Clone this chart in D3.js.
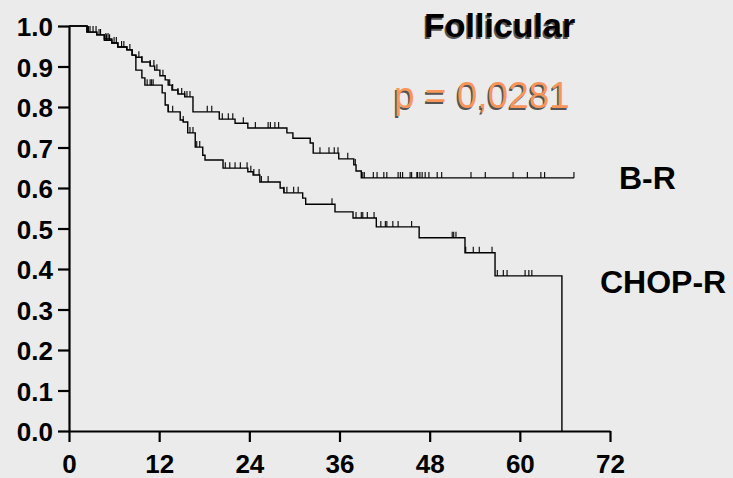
<!DOCTYPE html>
<meta charset="utf-8">
<script src="https://d3js.org/d3.v7.min.js"></script>
<style>
  body { margin: 0; background: #ebebeb; }
  text { font-family: Arial, "Liberation Sans", Helvetica, sans-serif; }
</style>
<body>
<div id="chart"></div>
<script>

// Kaplan-Meier steps: [month, survival]
var brSteps = [[0,1.0],[2.4,0.985],[3.7,0.978],[4.7,0.968],[5.7,0.958],[6.5,0.948],[7.7,0.941],
  [8.4,0.928],[8.9,0.923],[9.7,0.911],[10.8,0.901],[11.4,0.891],[12.1,0.877],[12.8,0.867],
  [13.2,0.854],[13.7,0.842],[14.5,0.832],[15.4,0.825],[16.5,0.788],[20.0,0.770],[22.1,0.760],
  [23.8,0.748],[29.0,0.736],[29.8,0.723],[32.1,0.711],[32.5,0.686],[35.9,0.672],[37.9,0.657],
  [38.2,0.642],[38.9,0.625]];
var brEnd = 67.2;

var chopSteps = [[0,1.0],[2.4,0.985],[3.7,0.978],[4.7,0.965],[5.7,0.958],[6.5,0.948],[7.7,0.941],
  [8.4,0.928],[8.9,0.891],[9.7,0.872],[10.1,0.854],[12.4,0.835],[12.8,0.805],[13.2,0.788],
  [14.8,0.768],[15.2,0.763],[15.8,0.736],[16.8,0.701],[17.8,0.681],[18.1,0.669],[20.5,0.649],
  [23.8,0.640],[24.5,0.632],[25.4,0.615],[28.1,0.600],[28.6,0.588],[31.1,0.575],[31.5,0.560],
  [35.4,0.541],[37.8,0.526],[40.9,0.504],[46.6,0.477],[52.7,0.440],[56.7,0.383]];
var chopEnd = 65.6;

// censored observations (months)
var brCensor = [2.4,2.8,3.6,4.0,4.9,5.2,6.3,7.3,8.1,9.3,9.7,10.8,11.3,11.7,12.5,13.4,13.8,14.5,
  15.0,15.4,15.7,16.1,18.4,19.0,20.4,21.2,21.8,23.2,24.8,26.5,26.8,27.4,27.9,33.4,34.6,35.3,35.8,
  37.1,38.1,39.1,39.3,40.5,41.0,41.9,42.3,43.8,44.1,44.4,45.4,45.6,46.3,46.4,46.7,47.0,47.4,47.9,
  49.0,49.6,53.5,55.4,59.1,61.0,62.8,63.3,67.2];
var chopCensor = [2.6,3.2,4.2,5.0,5.4,6.0,7.0,10.4,10.8,11.0,11.2,13.2,13.8,15.2,16.1,16.5,17.0,17.4,
  20.8,21.4,22.1,22.8,23.7,24.2,24.6,25.3,25.6,26.5,28.6,29.0,29.9,30.5,35.0,38.2,38.9,39.1,39.7,
  40.6,41.5,42.1,42.3,43.1,43.8,45.6,51.0,51.2,51.5,52.8,53.8,54.6,56.3,57.0,57.8,58.3,60.7,61.2,61.6];

var xTicks = [0,12,24,36,48,60,72];
var yTicks = [0,0.1,0.2,0.3,0.4,0.5,0.6,0.7,0.8,0.9,1.0];

var width = 733, height = 478;

var svg = d3.select("#chart").append("svg")
    .attr("width", width)
    .attr("height", height);

svg.append("rect").attr("width", width).attr("height", height).attr("fill", "#ebebeb");

var x = d3.scaleLinear().domain([0, 72]).range([69, 610]);
var y = d3.scaleLinear().domain([0, 1]).range([431, 26]);

// axes
var xAxis = svg.append("g")
    .attr("transform", "translate(0,431)")
    .call(d3.axisBottom(x).tickValues(xTicks).tickSize(11).tickSizeOuter(0).tickPadding(6));
var yAxis = svg.append("g")
    .attr("transform", "translate(69,0)")
    .call(d3.axisLeft(y).tickValues(yTicks).tickSize(11).tickSizeOuter(0).tickPadding(5)
      .tickFormat(d3.format(".1f")));

[xAxis, yAxis].forEach(function(g) {
  g.select(".domain").attr("stroke", "#000").attr("stroke-width", 2.2);
  g.selectAll(".tick line").attr("stroke", "#000").attr("stroke-width", 2.2);
  g.selectAll(".tick text")
    .attr("fill", "#000")
    .style("font-size", "26px")
    .style("font-weight", "bold");
});
xAxis.selectAll(".tick text").attr("dy", "0.95em");
yAxis.selectAll(".tick text").attr("dy", "0.38em");

function survivalAt(steps, t) {
  var s = 1;
  steps.forEach(function(d) { if (d[0] <= t) s = d[1]; });
  return s;
}

var line = d3.line()
    .x(function(d) { return x(d[0]); })
    .y(function(d) { return y(d[1]); })
    .curve(d3.curveStepAfter);

function drawCurve(steps, endT, endS, censor) {
  var pts = steps.concat([[endT, endS]]);
  svg.append("path")
    .datum(pts)
    .attr("fill", "none")
    .attr("stroke", "#000")
    .attr("stroke-width", 1.4)
    .attr("d", line);

  svg.selectAll(null)
    .data(censor)
    .enter()
    .append("line")
    .attr("x1", function(d) { return x(d); })
    .attr("x2", function(d) { return x(d); })
    .attr("y1", function(d) { return y(survivalAt(steps, d)); })
    .attr("y2", function(d) { return y(survivalAt(steps, d)) - 6; })
    .attr("stroke", "#000")
    .attr("stroke-width", 1.1);
}

drawCurve(brSteps, brEnd, brSteps[brSteps.length - 1][1], brCensor);
drawCurve(chopSteps, chopEnd, 0, chopCensor);

// titles with shadow
function shadowText(txt, tx, ty, size, weight, color) {
  svg.append("text")
    .attr("x", tx - 1.5).attr("y", ty + 1.5)
    .attr("fill", "#222")
    .attr("opacity", 0.75)
    .style("font-size", size + "px")
    .style("font-weight", weight)
    .text(txt);
  svg.append("text")
    .attr("x", tx).attr("y", ty)
    .attr("fill", color)
    .style("font-size", size + "px")
    .style("font-weight", weight)
    .text(txt);
}

shadowText("Follicular", 424, 37, 34, "bold", "#000");
shadowText("p = 0,0281", 394, 108, 37, "normal", "#f7955b");

svg.append("text")
  .attr("x", 619).attr("y", 189)
  .style("font-size", "32px").style("font-weight", "bold")
  .text("B-R");

svg.append("text")
  .attr("x", 600).attr("y", 293)
  .style("font-size", "32px").style("font-weight", "bold")
  .text("CHOP-R");

</script>
</body>
